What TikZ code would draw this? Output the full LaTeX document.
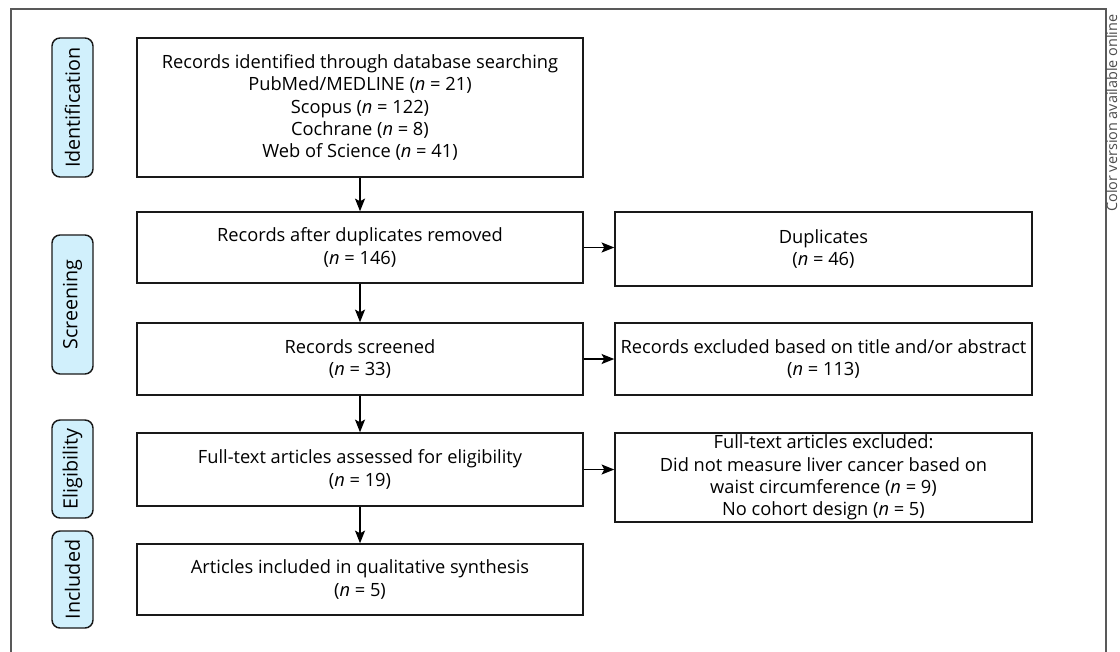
\documentclass[tikz,border=0pt]{standalone}
\usepackage{fontspec}
\setmainfont{Open Sans}
\usetikzlibrary{arrows.meta}
\begin{document}
\begin{tikzpicture}[x=0.75pt,y=-0.75pt,
  every node/.style={font=\fontsize{13.7}{16.7}\selectfont},
  mainbox/.style={draw=black!90,line width=1.1pt,align=center,inner sep=0pt,minimum width={446*0.75pt}},
  sidebox/.style={draw=black!90,line width=1.1pt,align=center,inner sep=0pt,minimum width={417*0.75pt}},
  pill/.style={draw=black!90,line width=1.1pt,fill=cyan!18,rounded corners=6pt,rotate=90,inner sep=0pt,minimum height={41*0.75pt},font=\fontsize{14.8}{17}\selectfont},
  arr/.style={line width=1.1pt,-{Stealth[length=9.5pt,width=7.5pt,inset=2pt]}}]
\useasboundingbox (0,0) rectangle (1120,652);
\begin{scope}
\clip (0,0) rectangle (1120,652);
\draw[black!65,line width=1pt] (11,700) -- (11,9) -- (1106,9) -- (1106,700);
\end{scope}
\node[rotate=90,anchor=base west,text=black!70,font=\fontsize{10.8}{13}\selectfont,inner sep=0pt] (cv) at (1117,212) {Color version available online};
% pills
\node[pill,minimum width={139*0.75pt}] (p1) at (72.5,107.5) {Identification};
\node[pill,minimum width={139*0.75pt}] (p2) at (72.5,304.5) {Screening};
\node[pill,minimum width={98*0.75pt}] (p3) at (72.5,469) {Eligibility};
\node[pill,minimum width={97*0.75pt}] (p4) at (72.5,579.5) {Included};
% main boxes
\node[mainbox,minimum height={139*0.75pt}] (b1) at (360,107.5) {Records identified through database searching\\PubMed/MEDLINE (\textit{n} = 21)\\Scopus (\textit{n} = 122)\\Cochrane (\textit{n} = 8)\\Web of Science (\textit{n} = 41)};
\node[mainbox,minimum height={71*0.75pt}] (b2) at (360,247.5) {Records after duplicates removed\\(\textit{n} = 146)};
\node[mainbox,minimum height={72*0.75pt}] (b3) at (360,359) {Records screened\\(\textit{n} = 33)};
\node[mainbox,minimum height={73*0.75pt}] (b4) at (360,469.5) {Full-text articles assessed for eligibility\\(\textit{n} = 19)};
\node[mainbox,minimum height={71*0.75pt}] (b5) at (360,579.5) {Articles included in qualitative synthesis\\(\textit{n} = 5)};
% side boxes
\node[sidebox,minimum height={74*0.75pt}] (s1) at (823.5,249) {Duplicates\\(\textit{n} = 46)};
\node[sidebox,minimum height={72*0.75pt}] (s2) at (823.5,359) {Records excluded based on title and/or abstract\\(\textit{n} = 113)};
\node[sidebox,minimum height={89*0.75pt}] (s3) at (823.5,477.5) {Full-text articles excluded:\\Did not measure liver cancer based on\\waist circumference (\textit{n} = 9)\\No cohort design (\textit{n} = 5)};
% arrows
\draw[arr] (b1) -- (b2);
\draw[arr] (b2) -- (b3);
\draw[arr] (b3) -- (b4);
\draw[arr] (b4) -- (b5);
\draw[arr] (b2.east) -- (s1.west |- b2.east);
\draw[arr] (b3.east) -- (s2.west |- b3.east);
\draw[arr] (b4.east) -- (s3.west |- b4.east);
\end{tikzpicture}
\end{document}
